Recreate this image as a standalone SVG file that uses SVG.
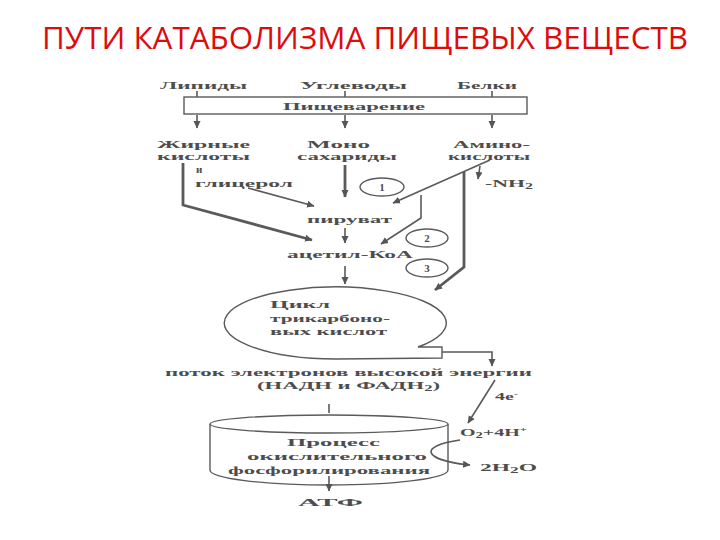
<svg xmlns="http://www.w3.org/2000/svg" width="720" height="540" viewBox="0 0 720 540">
<defs>
<marker id="ah" markerWidth="8" markerHeight="8" refX="7" refY="4" orient="auto" markerUnits="userSpaceOnUse">
<path d="M0,0.5 L7.5,4 L0,7.5 Z" fill="#555"/>
</marker>
</defs>
<style>
.t{font-family:"Liberation Serif","DejaVu Serif",serif;font-weight:bold;font-size:11px;fill:#4d4d4d}
.title{font-family:"Open Sans","Liberation Sans",sans-serif;font-size:31px;fill:#dc0c0c}
.ln{fill:none;stroke:#5a5a5a;stroke-width:1.6}
.th{fill:none;stroke:#5a5a5a;stroke-width:2.8}
.sh{fill:#fff;stroke:#5a5a5a;stroke-width:1.4}
</style>
<rect width="720" height="540" fill="#fff"/>
<text class="title" x="42" y="49" textLength="646" lengthAdjust="spacingAndGlyphs">ПУТИ КАТАБОЛИЗМА ПИЩЕВЫХ ВЕЩЕСТВ</text>

<g id="lipids"><text class="t" x="160" y="89" textLength="87" lengthAdjust="spacingAndGlyphs">Липиды</text></g>
<g id="carbs"><text class="t" x="300" y="89" textLength="107" lengthAdjust="spacingAndGlyphs">Углеводы</text></g>
<g id="proteins"><text class="t" x="457" y="89" textLength="60" lengthAdjust="spacingAndGlyphs">Белки</text></g>
<g id="digestion"><rect class="sh" x="184" y="97" width="343" height="17"/><text class="t" x="283" y="110" textLength="142" lengthAdjust="spacingAndGlyphs">Пищеварение</text></g>
<g id="fatty">
<text class="t" x="157" y="148" textLength="93" lengthAdjust="spacingAndGlyphs">Жирные</text>
<text class="t" x="157" y="160" textLength="93" lengthAdjust="spacingAndGlyphs">кислоты</text>
<text class="t" x="196" y="172.5">и</text>
<text class="t" x="195" y="187" textLength="98" lengthAdjust="spacingAndGlyphs">глицерол</text>
</g>
<g id="mono">
<text class="t" x="307" y="148" textLength="63" lengthAdjust="spacingAndGlyphs">Моно</text>
<text class="t" x="297" y="160" textLength="100" lengthAdjust="spacingAndGlyphs">сахариды</text>
</g>
<g id="amino">
<text class="t" x="453" y="148" textLength="77" lengthAdjust="spacingAndGlyphs">Амино-</text>
<text class="t" x="448" y="160" textLength="82" lengthAdjust="spacingAndGlyphs">кислоты</text>
</g>
<g id="nh2"><text class="t" x="485" y="187" textLength="48" lengthAdjust="spacingAndGlyphs">-NH<tspan font-size="8" dy="2">2</tspan></text></g>
<g id="pyruvate"><text class="t" x="307" y="223" textLength="85" lengthAdjust="spacingAndGlyphs">пируват</text></g>
<g id="acetyl"><text class="t" x="287" y="258" textLength="126" lengthAdjust="spacingAndGlyphs">ацетил-КоА</text></g>
<g id="n1"><ellipse class="sh" cx="382" cy="187" rx="22" ry="9"/><text class="t" x="382" y="191" font-size="9" text-anchor="middle">1</text></g>
<g id="n2"><ellipse class="sh" cx="427" cy="238" rx="21" ry="9"/><text class="t" x="427" y="242" font-size="9" text-anchor="middle">2</text></g>
<g id="n3"><ellipse class="sh" cx="427" cy="268" rx="21" ry="9"/><text class="t" x="427" y="272" font-size="9" text-anchor="middle">3</text></g>
<g id="tca">
<path class="sh" d="M418,347 L442,347 L442,358 L336,359 A111,36 0 1 1 418,347 Z"/>
<text class="t" x="270" y="308" textLength="60" lengthAdjust="spacingAndGlyphs">Цикл</text>
<text class="t" x="270" y="322" textLength="120" lengthAdjust="spacingAndGlyphs">трикарбоно-</text>
<text class="t" x="270" y="335" textLength="117" lengthAdjust="spacingAndGlyphs">вых кислот</text>
</g>
<g id="flow">
<text class="t" x="165" y="376" textLength="367" lengthAdjust="spacingAndGlyphs">поток электронов высокой энергии</text>
<text class="t" x="257" y="389" textLength="183" lengthAdjust="spacingAndGlyphs">(НАДН и ФАДН<tspan font-size="8" dy="2">2</tspan><tspan dy="-2">)</tspan></text>
</g>
<g id="e4"><text class="t" x="495" y="400" font-size="9" textLength="23" lengthAdjust="spacingAndGlyphs">4e<tspan font-size="7" dy="-4">-</tspan></text></g>
<g id="o2"><text class="t" x="460" y="436" textLength="67" lengthAdjust="spacingAndGlyphs">O<tspan font-size="8" dy="2">2</tspan><tspan dy="-2">+4H</tspan><tspan font-size="7" dy="-4">+</tspan></text></g>
<g id="h2o"><text class="t" x="480" y="471" textLength="57" lengthAdjust="spacingAndGlyphs">2H<tspan font-size="8" dy="2">2</tspan><tspan dy="-2">O</tspan></text></g>
<g id="oxphos">
<path class="sh" d="M210,424 L210,470 A119,15 0 0 0 448,470 L448,424"/>
<ellipse class="sh" cx="329" cy="424" rx="119" ry="9"/>
<text class="t" x="287" y="446" textLength="93" lengthAdjust="spacingAndGlyphs">Процесс</text>
<text class="t" x="247" y="460" textLength="180" lengthAdjust="spacingAndGlyphs">окислительного</text>
<text class="t" x="228" y="474" textLength="202" lengthAdjust="spacingAndGlyphs">фосфорилирования</text>
</g>
<g id="atp"><text class="t" x="298" y="506" textLength="65" lengthAdjust="spacingAndGlyphs">АТФ</text></g>

<g id="connectors">
<path class="ln" d="M197,91 V97 M345,91 V97 M492,91 V97"/>
<path class="ln" d="M197,115 V128" marker-end="url(#ah)"/>
<path class="ln" d="M345,115 V128" marker-end="url(#ah)"/>
<path class="ln" d="M492,115 V128" marker-end="url(#ah)"/>
<path class="th" d="M183,163 L183,205 L312,240" marker-end="url(#ah)"/>
<path class="ln" d="M248,188 L314,206" marker-end="url(#ah)"/>
<path class="th" d="M345,165 L345,197" marker-end="url(#ah)"/>
<path class="ln" d="M345,228 L345,243" marker-end="url(#ah)"/>
<path class="ln" d="M345,266 L345,284" marker-end="url(#ah)"/>
<path class="ln" stroke-width="2" d="M490,160 L393,203" marker-end="url(#ah)"/>
<path class="th" d="M464,172 L464,267 L435,290" marker-end="url(#ah)"/>
<path class="ln" stroke-width="2" d="M421,195 L421,218 L381,244" marker-end="url(#ah)"/>
<path class="ln" d="M480,166 L478,179" marker-end="url(#ah)"/>
<path class="ln" d="M442,352 L492,352 L492,366" marker-end="url(#ah)"/>
<path class="ln" d="M329,404 V413"/>
<path class="ln" stroke-width="2" d="M495,380 L468,423" marker-end="url(#ah)"/>
<path class="ln" d="M460,440 C418,446 422,460 470,465" marker-end="url(#ah)"/>
<path class="ln" d="M329,476 L329,491" marker-end="url(#ah)"/>
</g>
</svg>
